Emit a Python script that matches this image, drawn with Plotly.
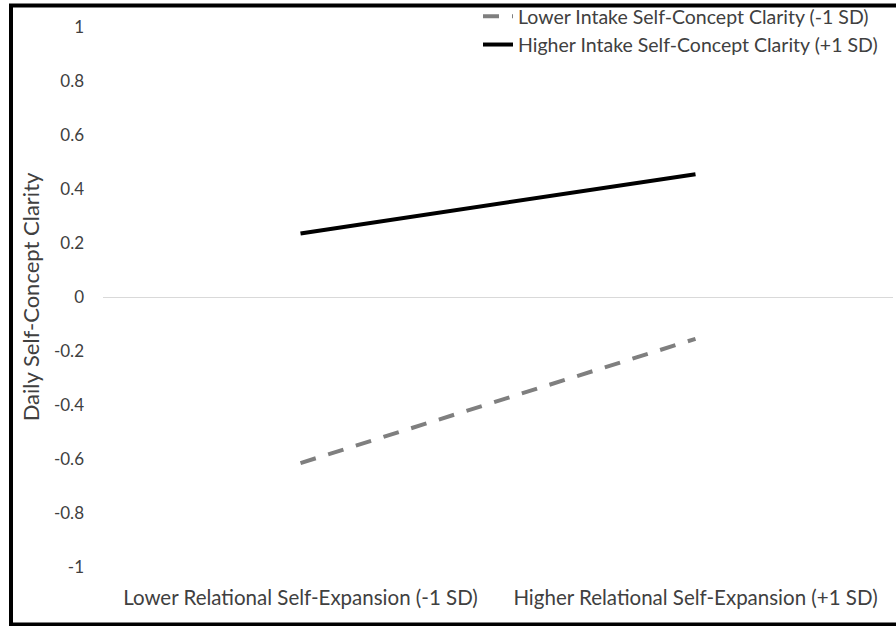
import plotly.graph_objects as go

categories = ["Lower Relational Self-Expansion (-1 SD)", "Higher Relational Self-Expansion (+1 SD)"]
lower_scc = [-0.615, -0.155]
higher_scc = [0.235, 0.455]
series_names = ["Lower Intake Self-Concept Clarity (-1 SD)", "Higher Intake Self-Concept Clarity (+1 SD)"]
y_ticks = [1, 0.8, 0.6, 0.4, 0.2, 0, -0.2, -0.4, -0.6, -0.8, -1]
y_tick_text = ["1", "0.8", "0.6", "0.4", "0.2", "0", "-0.2", "-0.4", "-0.6", "-0.8", "-1"]

FONT = "Lato"
W, H = 896, 626
ML, MR, MT, MB = 103, 3, 27, 59
pw, ph = W - ML - MR, H - MT - MB

fig = go.Figure()
fig.add_trace(go.Scatter(x=categories, y=lower_scc, mode="lines", name=series_names[0],
                         line=dict(color="#7f7f7f", width=4, dash="16px,13px")))
fig.add_trace(go.Scatter(x=categories, y=higher_scc, mode="lines", name=series_names[1],
                         line=dict(color="#000000", width=4)))

def px_x(p):
    return (p - ML) / pw

def px_y(p):
    return (H - MB - p) / ph

fig.add_shape(type="rect", xref="paper", yref="paper",
              x0=px_x(11), x1=px_x(905), y0=px_y(624.5), y1=px_y(5.5),
              line=dict(color="black", width=4), fillcolor="rgba(0,0,0,0)", layer="above")

fig.update_layout(
    width=W, height=H,
    margin=dict(l=ML, r=MR, t=MT, b=MB, pad=0, autoexpand=False),
    paper_bgcolor="white", plot_bgcolor="white",
    font=dict(family=FONT, size=17, color="#404040"),
    showlegend=True,
    legend=dict(x=px_x(478), y=px_y(-3), xanchor="left", yanchor="top",
                font=dict(family=FONT, size=19.5, color="#404040"),
                bgcolor="rgba(0,0,0,0)", tracegroupgap=0, itemwidth=30),
    xaxis=dict(type="category", range=[-0.5, 1.5], showgrid=False, zeroline=False,
               showline=False, ticks="", ticklabelstandoff=16,
               tickfont=dict(family=FONT, size=20.5, color="#404040")),
    yaxis=dict(range=[-1, 1], tickvals=y_ticks, ticktext=y_tick_text, showgrid=False,
               zeroline=True, zerolinecolor="#d9d9d9", zerolinewidth=1, showline=False,
               ticks="", ticklabelstandoff=18,
               tickfont=dict(family=FONT, size=17, color="#404040"),
               title=dict(text="Daily Self-Concept Clarity", standoff=8,
                          font=dict(family=FONT, size=22, color="#404040"))),
)

fig.write_html("out.html", config={"displayModeBar": False},
               post_script="document.body.style.margin='0';document.body.style.overflow='hidden';")
